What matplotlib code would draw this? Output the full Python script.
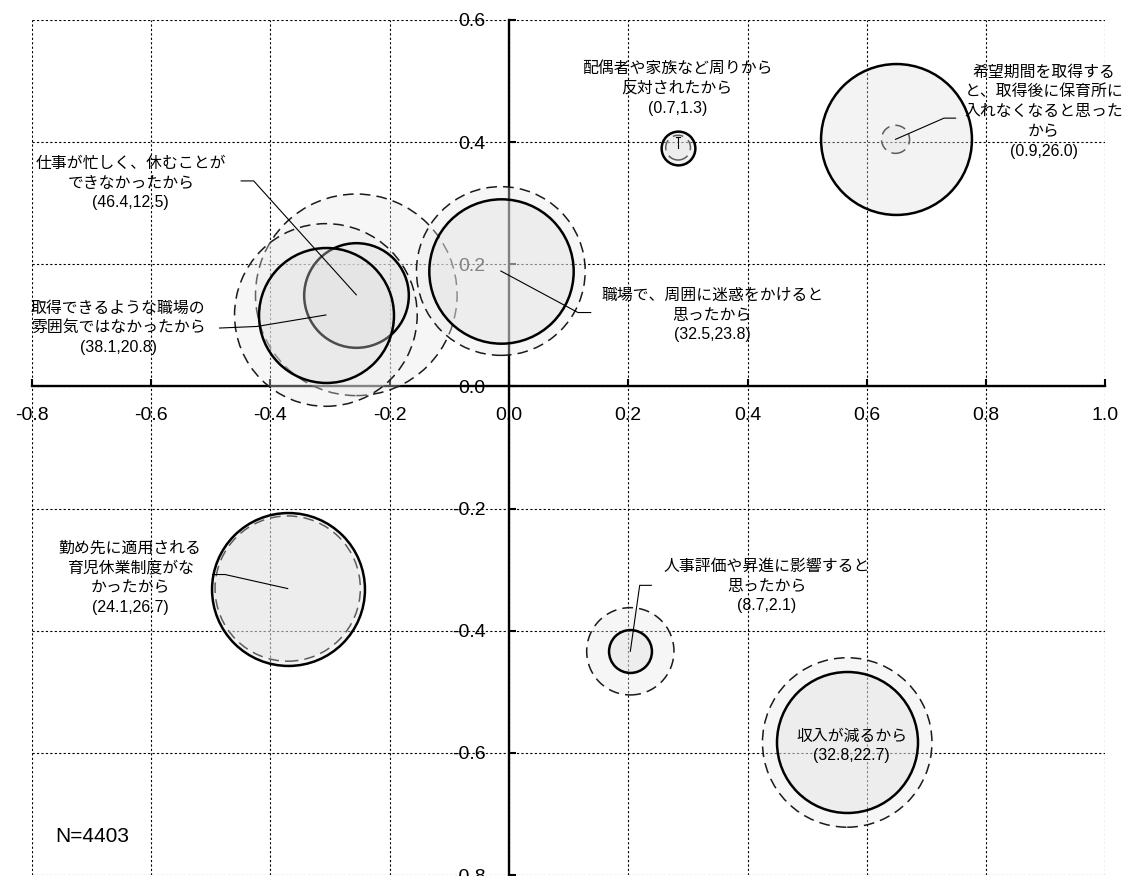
import matplotlib
matplotlib.use("Agg")
import matplotlib.pyplot as plt

plt.rcParams["axes.unicode_minus"] = False

# ---------------- data ----------------
items = [
    "希望期間を取得する\nと、取得後に保育所に\n入れなくなると思った\nから",
    "配偶者や家族など周りから\n反対されたから",
    "仕事が忙しく、休むことが\nできなかったから",
    "取得できるような職場の\n雰囲気ではなかったから",
    "職場で、周囲に迷惑をかけると\n思ったから",
    "勤め先に適用される\n育児休業制度がな\nかったから",
    "人事評価や昇進に影響すると\n思ったから",
    "収入が減るから",
]
x_coord = [0.648, 0.2835, -0.256, -0.307, -0.0137, -0.371, 0.2034, 0.567]
y_coord = [0.4046, 0.391, 0.150, 0.117, 0.189, -0.331, -0.4337, -0.583]
pct_dashed = [0.9, 0.7, 46.4, 38.1, 32.5, 24.1, 8.7, 32.8]
pct_solid = [26.0, 1.3, 12.5, 20.8, 23.8, 26.7, 2.1, 22.7]
x_ticks = [-0.8, -0.6, -0.4, -0.2, 0.0, 0.2, 0.4, 0.6, 0.8, 1.0]
y_ticks = [-0.8, -0.6, -0.4, -0.2, 0.0, 0.2, 0.4, 0.6]
n_note = "N=4403"

# ---------------- layout (label centres & leader waypoints, data coords) ----------------
label_pos = [(0.897, 0.450), (0.282, 0.488), (-0.634, 0.333), (-0.655, 0.096),
             (0.341, 0.117), (-0.635, -0.313), (0.4317, -0.327), (0.5745, -0.5886)]
leader_pts = [
    [(0.7487, 0.4393), (0.7293, 0.4393)],
    [(0.2835, 0.409)],
    [(-0.449, 0.3365), (-0.428, 0.3365)],
    [(-0.4852, 0.0956), (-0.4225, 0.0982)],
    [(0.137, 0.121), (0.1157, 0.121)],
    [(-0.497, -0.308), (-0.476, -0.308)],
    [(0.2386, -0.3257), (0.2191, -0.3257)],
    None,
]

SIZE_K = 454  # marker area (pt^2) per percentage point

fig = plt.figure(figsize=(11.28, 8.76), dpi=100)
ax = fig.add_axes([0.02819, 0.00114, 0.95186, 0.97603])
ax.set_xlim(-0.8, 1.0)
ax.set_ylim(-0.8, 0.6)

ax.set_xticks(x_ticks)
ax.set_xticklabels([f"{t:.1f}" for t in x_ticks])
ax.set_yticks(y_ticks)
ax.set_yticklabels([f"{t:.1f}" for t in y_ticks])
ax.grid(True, color="black", linestyle=(0, (2, 2)), linewidth=0.8)

for s in ["top", "right"]:
    ax.spines[s].set_visible(False)
for s in ["left", "bottom"]:
    ax.spines[s].set_position(("data", 0))
    ax.spines[s].set_linewidth(1.7)
ax.tick_params(axis="both", direction="in", length=5, width=1.5, labelsize=14)
ax.tick_params(axis="x", pad=15)
ax.tick_params(axis="y", pad=17)
for lab in ax.get_xticklabels() + ax.get_yticklabels():
    lab.set_fontfamily(["Liberation Sans", "DejaVu Sans"])

# dashed circles first, then solid circles
for i in range(len(items)):
    ax.scatter([x_coord[i]], [y_coord[i]], s=SIZE_K * pct_dashed[i],
               facecolor=(232/255, 232/255, 232/255, 0.35), edgecolor="#1a1a1a",
               linewidths=1.1, linestyles=(0, (7, 4)), zorder=3 + 0.01 * i)
for i in range(len(items)):
    ax.scatter([x_coord[i]], [y_coord[i]], s=SIZE_K * pct_solid[i],
               facecolor=(221/255, 221/255, 221/255, 0.35), edgecolor="black",
               linewidths=1.8, zorder=4 + 0.01 * i)

font_fam = ["Liberation Sans", "Noto Sans CJK JP"]
for i, name in enumerate(items):
    txt = f"{name}\n({pct_dashed[i]:.1f},{pct_solid[i]:.1f})"
    ax.text(label_pos[i][0], label_pos[i][1], txt, ha="center", va="center",
            fontsize=11.4, family=font_fam, linespacing=1.4, zorder=10)
    if leader_pts[i] is not None:
        pts = leader_pts[i] + [(x_coord[i], y_coord[i])]
        ax.plot([p[0] for p in pts], [p[1] for p in pts], color="black",
                linewidth=0.8, zorder=9)

# small T-shaped leader head for the tiny circle
ax.plot([0.2795, 0.2875], [0.409, 0.409], color="black", linewidth=0.8, zorder=9)

ax.text(-0.761, -0.7365, n_note, ha="left", va="center", fontsize=15,
        family=["Liberation Sans", "DejaVu Sans"], zorder=10)

fig.savefig("out.png", dpi=100)
